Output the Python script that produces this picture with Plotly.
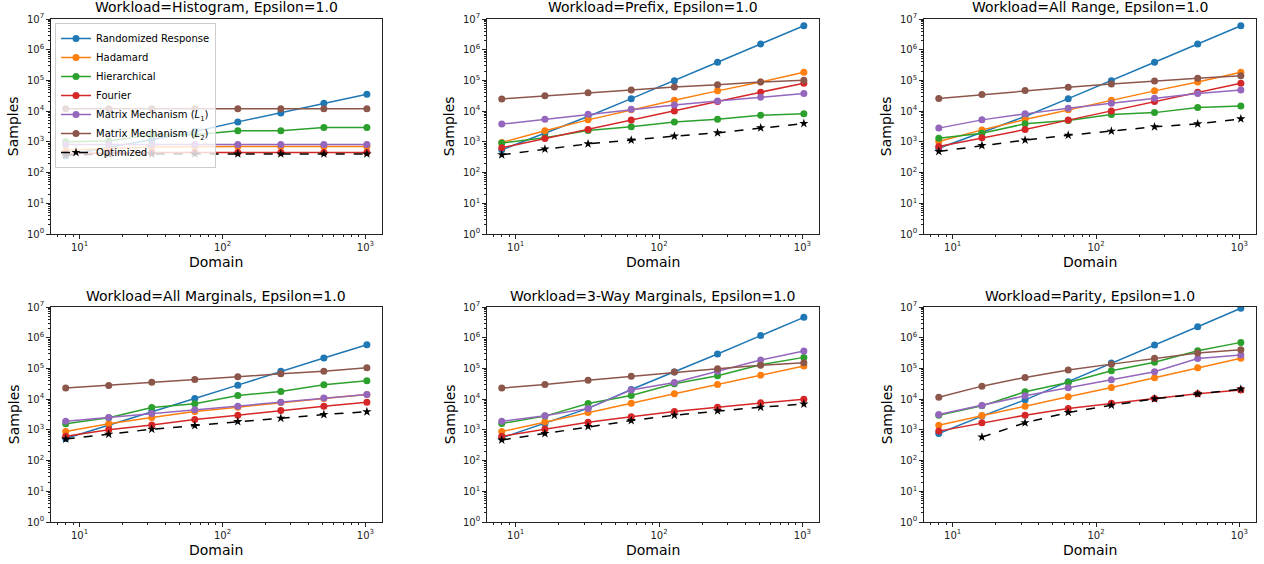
import plotly.graph_objects as go

domain = [8, 16, 32, 64, 128, 256, 512, 1024]

series_names = [
    "Randomized Response",
    "Hadamard",
    "Hierarchical",
    "Fourier",
    "Matrix Mechanism (<i>L</i><sub>1</sub>)",
    "Matrix Mechanism (<i>L</i><sub>2</sub>)",
    "Optimized",
]
colors = ["#1f77b4", "#ff7f0e", "#2ca02c", "#d62728", "#9467bd", "#8c564b", "black"]

workloads = ["Histogram", "Prefix", "All Range", "All Marginals", "3-Way Marginals", "Parity"]

histogram = [
    [352, 670, 1170, 2180, 4470, 8780, 18000, 35500],
    [520, 620, 680, 700, 700, 700, 700, 700],
    [1000, 1070, 1690, 1700, 2290, 2290, 2930, 2930],
    [420, 440, 450, 450, 450, 450, 450, 450],
    [820, 820, 820, 820, 820, 820, 820, 820],
    [12000, 12000, 12000, 12000, 12000, 12000, 12000, 12000],
    [370, 400, 400, 405, 405, 405, 405, 405],
]
prefix = [
    [550, 1900, 6700, 25500, 98000, 390000, 1540000, 6000000],
    [950, 2300, 5200, 11000, 22700, 45700, 89000, 185000],
    [910, 1350, 2340, 3080, 4470, 5450, 7380, 8300],
    [640, 1290, 2520, 5100, 10200, 20500, 41500, 81000],
    [3780, 5450, 7950, 11500, 15900, 21400, 28300, 37300],
    [25000, 31600, 40000, 49000, 61000, 73000, 89000, 101000],
    [380, 580, 860, 1140, 1540, 1960, 2860, 3960],
]
all_range = [
    [620, 2000, 6700, 25500, 98000, 390000, 1540000, 6000000],
    [1030, 2450, 5350, 11000, 22700, 45700, 89000, 185000],
    [1320, 1920, 3860, 4930, 7780, 8950, 13100, 14800],
    [710, 1350, 2520, 5100, 10200, 20500, 41500, 81000],
    [2800, 5200, 8150, 12500, 18100, 26300, 37300, 49000],
    [25700, 34600, 46600, 60000, 77000, 96000, 118000, 141000],
    [487, 760, 1140, 1650, 2230, 3080, 3860, 5600],
]
all_marginals = [
    [520, 1420, 4070, 10500, 28600, 81000, 218000, 590000],
    [880, 1580, 2530, 3980, 5480, 7800, 10500, 14100],
    [1580, 2470, 5350, 7050, 13200, 17800, 29400, 39600],
    [620, 1000, 1450, 2170, 3000, 4270, 5900, 7980],
    [1910, 2530, 3400, 4490, 5900, 7980, 10800, 14100],
    [22900, 28000, 35700, 43800, 53600, 67000, 81000, 105000],
    [500, 720, 1050, 1380, 1860, 2400, 3160, 3880],
]
three_way = [
    [550, 1620, 5000, 20700, 76000, 294000, 1170000, 4600000],
    [880, 1820, 3700, 7400, 14900, 30000, 60500, 120000],
    [1610, 2800, 7250, 13200, 31600, 57700, 132000, 229000],
    [620, 1070, 1780, 2660, 3960, 5480, 7600, 10000],
    [1910, 2860, 5000, 20000, 35000, 81000, 187000, 370000],
    [22900, 30000, 41600, 56000, 76000, 98000, 126000, 152000],
    [470, 760, 1290, 2000, 3000, 4170, 5480, 6900],
]
parity = [
    [760, 2800, 9500, 37000, 149000, 576000, 2280000, 9100000],
    [1420, 2930, 5900, 12000, 24000, 50000, 105000, 213000],
    [3000, 6050, 17300, 35000, 84000, 158000, 378000, 705000],
    [910, 1700, 3000, 5000, 7400, 10500, 14900, 20000],
    [3170, 6200, 12800, 23400, 42600, 78000, 209000, 272000],
    [11600, 26500, 51000, 89000, 138000, 213000, 316000, 407000],
    [None, 580, 1700, 3700, 6350, 10200, 14900, 21200],
]
panels = [histogram, prefix, all_range, all_marginals, three_way, parity]

xtick_vals = [10, 100, 1000]
xtick_text = ["10<sup>1</sup>", "10<sup>2</sup>", "10<sup>3</sup>"]
ytick_vals = [1, 10, 100, 1000, 1e4, 1e5, 1e6, 1e7]
ytick_text = ["10<sup>%d</sup>" % i for i in range(8)]
x_minor = [m * 10 ** e for e in range(0, 4) for m in range(2, 10)]
y_minor = [m * 10 ** e for e in range(0, 7) for m in range(2, 10)]

W, H = 1264, 564
x_px = [(50.7, 382), (486.7, 819), (923.7, 1256)]
y_px = [(19, 234), (307, 522)]

font = "DejaVu Sans"
fig = go.Figure()
annotations = []
for p, data in enumerate(panels):
    r, c = divmod(p, 3)
    idx = "" if p == 0 else str(p + 1)
    xd = [x_px[c][0] / W, x_px[c][1] / W]
    yd = [1 - y_px[r][1] / H, 1 - y_px[r][0] / H]
    axcommon = dict(
        showline=True, linecolor="#222", linewidth=1, mirror=True,
        ticks="outside", ticklen=3.5, tickcolor="#222", tickwidth=1,
        showgrid=False, zeroline=False, automargin=False,
        tickfont=dict(family=font, size=10, color="#222"),
    )
    fig.layout["xaxis" + idx] = dict(
        axcommon, type="log", range=[0.798, 3.116], domain=xd,
        anchor="y" + idx, tickvals=xtick_vals, ticktext=xtick_text,
        minor=dict(tickvals=x_minor, ticks="outside", ticklen=2, tickcolor="#222"),
    )
    fig.layout["yaxis" + idx] = dict(
        axcommon, type="log", range=[0, 7], domain=yd,
        anchor="x" + idx, tickvals=ytick_vals, ticktext=ytick_text,
        minor=dict(tickvals=y_minor, ticks="outside", ticklen=2, tickcolor="#222"),
    )
    for s, vals in enumerate(data):
        opt = s == 6
        fig.add_trace(go.Scatter(
            x=domain, y=vals, name=series_names[s], mode="lines+markers",
            xaxis="x" + idx, yaxis="y" + idx, showlegend=(p == 0),
            line=dict(color=colors[s], width=1.5, dash="dash" if opt else "solid"),
            marker=dict(color=colors[s], size=7,
                        symbol="star" if opt else "circle", line=dict(width=0)),
        ))
    xc = (xd[0] + xd[1]) / 2
    yc = (yd[0] + yd[1]) / 2
    annotations.append(dict(
        text="Workload=%s, Epsilon=1.0" % workloads[p],
        x=xc, y=yd[1], xref="paper", yref="paper",
        xanchor="center", yanchor="middle", yshift=11.5, showarrow=False,
        font=dict(family=font, size=14, color="black"),
    ))
    annotations.append(dict(
        text="Domain", x=xc, y=yd[0], xref="paper", yref="paper",
        xanchor="center", yanchor="middle", yshift=-28, showarrow=False,
        font=dict(family=font, size=14, color="black"),
    ))
    annotations.append(dict(
        text="Samples", x=xd[0], y=yc, xref="paper", yref="paper",
        xanchor="center", yanchor="middle", xshift=-37, textangle=-90,
        showarrow=False, font=dict(family=font, size=14, color="black"),
    ))

fig.update_layout(
    width=W, height=H, margin=dict(l=0, r=0, t=0, b=0, autoexpand=False),
    paper_bgcolor="white", plot_bgcolor="white",
    annotations=annotations,
    legend=dict(
        x=55 / W, y=1 - 23 / H, xanchor="left", yanchor="top",
        bgcolor="rgba(255,255,255,0.8)", bordercolor="#cccccc", borderwidth=1,
        font=dict(family=font, size=10, color="black"),
        tracegroupgap=0, itemwidth=30,
    ),
)
fig.write_html(
    "out.html",
    config={"displayModeBar": False},
    post_script="document.body.style.margin='0px';document.body.style.overflow='hidden';",
)
